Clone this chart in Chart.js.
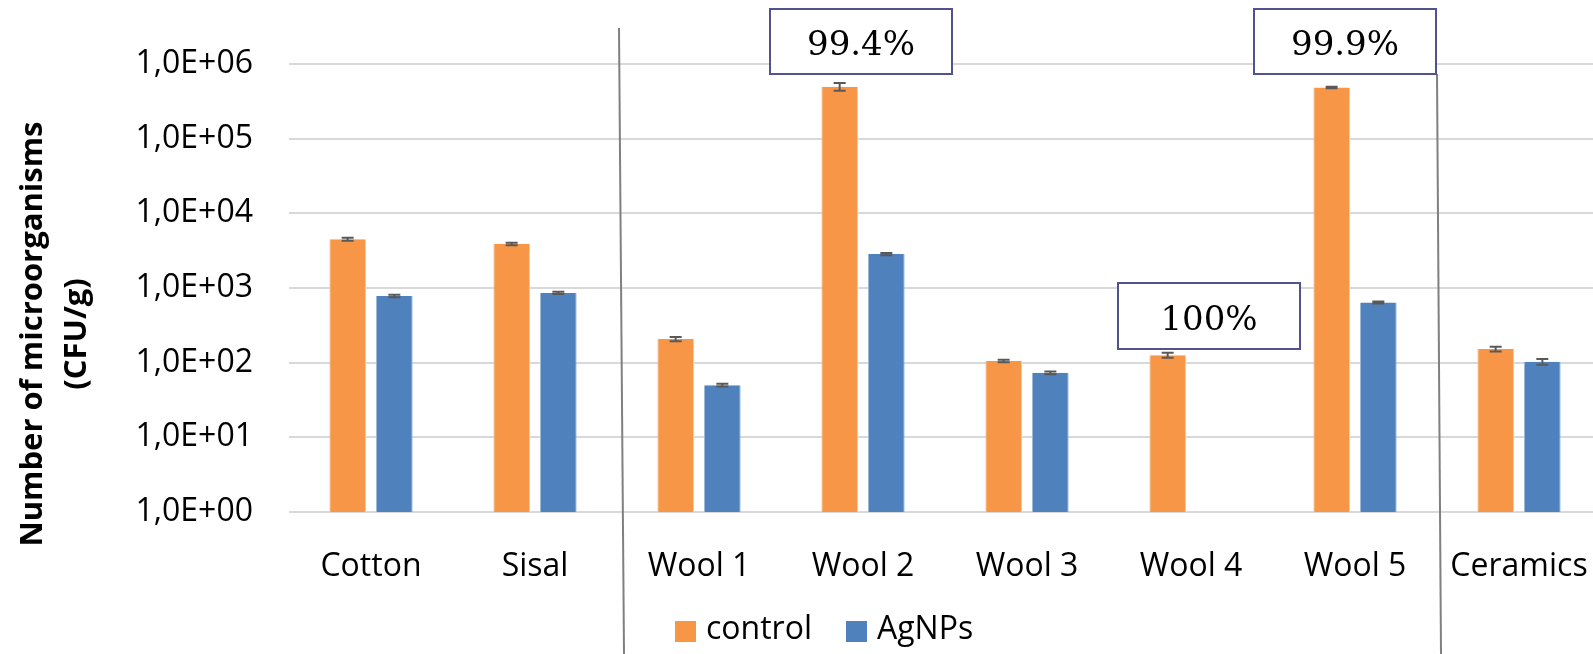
<!DOCTYPE html>
<html>
<head>
<meta charset="utf-8">
<script src="https://cdn.jsdelivr.net/npm/chart.js@4.4.1/dist/chart.umd.min.js"></script>
<style>
  html, body { margin:0; padding:0; background:#fff; overflow:hidden }
  #wrap { width:1601px; height:654px }
</style>
</head>
<body>
<div id="wrap"><canvas id="chart" width="1601" height="654"></canvas></div>
<script>
const categories = ["Cotton", "Sisal", "Wool 1", "Wool 2", "Wool 3", "Wool 4", "Wool 5", "Ceramics"]
const control = [4500, 3900, 207, 497000, 105, 126, 485000, 152]
const controlErr = [200, 150, 14, 60000, 4, 10, 12000, 11]
const agnps = [780, 860, 50, 2850, 73, null, 640, 103]
const agnpsErr = [30, 30, 2, 100, 3, 0, 20, 9]
const yTicks = [1, 10, 100, 1e3, 1e4, 1e5, 1e6]
const reductions = ["99.4%", "100%", "99.9%"]
const reductionAt = ["Wool 2", "Wool 4", "Wool 5"]

Chart.defaults.font.family = "'Open Sans'"
Chart.defaults.color = "#000"

// box placement for the reduction labels (offset from category centre)
const boxes = [
  {dx:-2, top:9, width:182, height:65},
  {dx:18, top:283, width:182, height:66},
  {dx:-10, top:9, width:182, height:65},
]
// separators between fabric groups: after these category indexes
const separators = [
  {after:1, top:28, dxTop:2, dxBottom:7},
  {after:6, top:74, dxTop:0, dxBottom:4},
]

const extras = {
  id:"extras",
  afterDatasetsDraw(chart) {
    const {ctx} = chart
    const y = chart.scales.y
    // error bars
    const errs = [controlErr, agnpsErr]
    chart.data.datasets.forEach((ds, i) => {
      const meta = chart.getDatasetMeta(i)
      ds.data.forEach((v, j) => {
        if (v == null) return
        const bar = meta.data[j]
        const e = errs[i][j]
        const y1 = y.getPixelForValue(v + e), y2 = y.getPixelForValue(Math.max(v - e, 1))
        ctx.save()
        ctx.strokeStyle = "#595959"
        ctx.lineWidth = 2
        ctx.beginPath()
        ctx.moveTo(bar.x, y1); ctx.lineTo(bar.x, y2)
        ctx.moveTo(bar.x - 6, y1); ctx.lineTo(bar.x + 6, y1)
        ctx.moveTo(bar.x - 6, y2); ctx.lineTo(bar.x + 6, y2)
        ctx.stroke()
        ctx.restore()
      })
    })
  },
  afterDraw(chart) {
    const {ctx, chartArea} = chart
    const x = chart.scales.x
    ctx.save()
    // group separators
    ctx.strokeStyle = "#808080"
    ctx.lineWidth = 2
    separators.forEach(s => {
      const mid = (x.getPixelForValue(s.after) + x.getPixelForValue(s.after + 1)) / 2
      ctx.beginPath()
      ctx.moveTo(mid + s.dxTop, s.top)
      ctx.lineTo(mid + s.dxBottom, chart.height)
      ctx.stroke()
    })
    // reduction boxes
    reductions.forEach((text, i) => {
      const b = boxes[i]
      const cx = x.getPixelForValue(categories.indexOf(reductionAt[i])) + b.dx
      const left = cx - b.width / 2
      ctx.fillStyle = "#fff"
      ctx.fillRect(left, b.top, b.width, b.height)
      ctx.strokeStyle = "#52528F"
      ctx.lineWidth = 2
      ctx.strokeRect(left, b.top, b.width, b.height)
      ctx.fillStyle = "#000"
      ctx.font = "34px 'DejaVu Serif'"
      ctx.textAlign = "center"
      ctx.textBaseline = "middle"
      ctx.fillText(text, cx, b.top + b.height / 2 + 5)
    })
    // y axis title
    const cy = (chartArea.top + chartArea.bottom) / 2 + 46
    ctx.translate(0, cy)
    ctx.rotate(-Math.PI / 2)
    ctx.fillStyle = "#000"
    ctx.font = "bold 31px 'Open Sans'"
    ctx.textAlign = "center"
    ctx.textBaseline = "middle"
    ctx.fillText("Number of microorganisms", 0, 33)
    ctx.fillText("(CFU/g)", 0, 77)
    ctx.restore()
    // legend
    ctx.save()
    ctx.font = "32px 'Open Sans'"
    ctx.textBaseline = "middle"
    const items = [{x:675, text:chart.data.datasets[0].label, color:chart.data.datasets[0].backgroundColor},
                   {x:846, text:chart.data.datasets[1].label, color:chart.data.datasets[1].backgroundColor}]
    items.forEach(it => {
      ctx.fillStyle = it.color
      ctx.fillRect(it.x, 621, 21, 21)
      ctx.fillStyle = "#000"
      ctx.fillText(it.text, it.x + 31, 630)
    })
    ctx.restore()
  }
}

new Chart(document.getElementById("chart"), {
  type:"bar",
  data:{
    labels:categories,
    datasets:[
      {label:"control", data:control, backgroundColor:"#F79646", borderColor:"#FBC79C", borderWidth:{left:1, right:1, top:0, bottom:0}},
      {label:"AgNPs", data:agnps, backgroundColor:"#4F81BD", borderColor:"#9DB8DA", borderWidth:{left:1, right:1, top:0, bottom:0}},
    ]
  },
  options:{
    responsive:false,
    animation:false,
    layout:{padding:{top:64, right:0, bottom:0, left:0}},
    categoryPercentage:0.5695,
    barPercentage:0.786,
    plugins:{legend:{display:false}, tooltip:{enabled:false}},
    scales:{
      x:{
        grid:{display:false},
        border:{display:false},
        ticks:{font:{size:32}, padding:28, maxRotation:0},
        afterFit(scale) {
          scale.height = 142
          scale.paddingLeft = 0
          scale.paddingRight = 0
        }
      },
      y:{
        type:"logarithmic",
        min:1,
        max:1e6,
        afterBuildTicks(scale) { scale.ticks = yTicks.map(value => ({value})) },
        afterFit(scale) { scale.width = 289 },
        grid:{color:"#D9D9D9", lineWidth:2, drawTicks:false},
        border:{display:false},
        ticks:{
          font:{size:32},
          padding:36,
          callback:value => `1,0E+${String(Math.round(Math.log10(value))).padStart(2, "0")}`
        }
      }
    }
  },
  plugins:[extras]
})
</script>
</body>
</html>
